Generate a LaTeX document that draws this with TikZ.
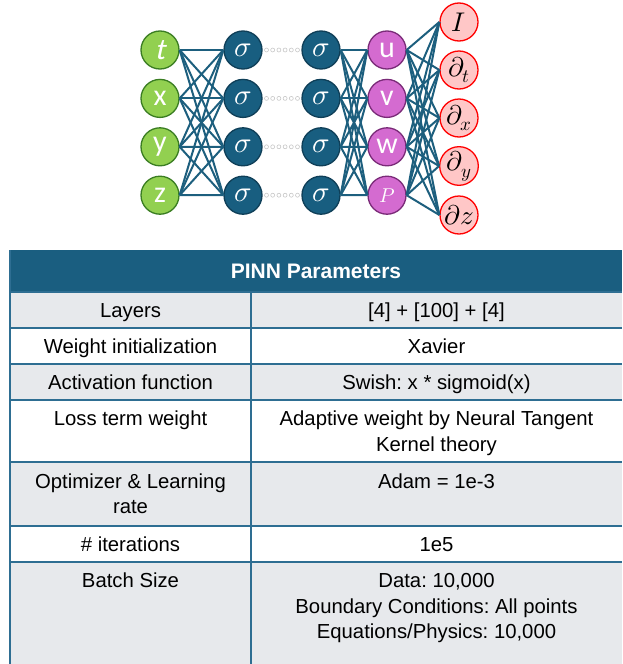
\documentclass[tikz,border=0pt]{standalone}
\usepackage{fontspec}
\usepackage{unicode-math}
\setmainfont{Liberation Sans}
\newfontfamily\letterfont{Carlito}
\newfontfamily\letterslant{Carlito}[FakeSlant=0.22]
\usetikzlibrary{calc}

\definecolor{edgeblue}{HTML}{1D5F7E}
\definecolor{hidfill}{HTML}{185E80}
\definecolor{hidline}{HTML}{0F3F58}
\definecolor{infill}{HTML}{92D050}
\definecolor{inline}{HTML}{3A7D22}
\definecolor{outfill}{HTML}{D46BD0}
\definecolor{outline}{HTML}{7A2B78}
\definecolor{derfill}{HTML}{FFC7C7}
\definecolor{derline}{HTML}{FF0000}
\definecolor{hdrfill}{HTML}{1A5E80}
\definecolor{gridline}{HTML}{2E6E92}
\definecolor{rowgray}{HTML}{E7E9EC}
\definecolor{dotgray}{HTML}{C8C8C8}

\tikzset{
  neuron/.style={circle, minimum size=38pt, inner sep=0pt, line width=1.3pt},
  inunit/.style={neuron, fill=infill, draw=inline, text=white,
    font=\letterfont\fontsize{30}{30}\selectfont},
  hidunit/.style={neuron, fill=hidfill, draw=hidline, text=white,
    font=\fontsize{29}{29}\selectfont},
  outunit/.style={neuron, fill=outfill, draw=outline, text=white,
    font=\letterfont\fontsize{30}{30}\selectfont},
  derunit/.style={neuron, fill=derfill, draw=derline, text=black,
    font=\fontsize{27}{27}\selectfont},
  wire/.style={draw=edgeblue, line width=2pt},
  gapdot/.style={circle, draw=dotgray, fill=white, line width=0.6pt,
    minimum size=4pt, inner sep=0pt},
  cell/.style={anchor=base, inner sep=0pt, font=\fontsize{20.3}{24}\selectfont},
  head/.style={anchor=base, inner sep=0pt, text=white,
    font=\bfseries\fontsize{21}{24}\selectfont},
  rule/.style={draw=gridline, line width=1.5pt}
}

\begin{document}
\frenchspacing
\begin{tikzpicture}[x=1pt, y=-1pt]
\useasboundingbox (0,0) rectangle (622,664);

% ---------- network ----------
\node[inunit, font=\letterslant\fontsize{30}{30}\selectfont] (in1) at (160, 50) {t};
\node[inunit] (in2) at (160, 98.4)  {x};
\node[inunit] (in3) at (160, 146.8) {y};
\node[inunit] (in4) at (160, 195.2) {z};

\foreach \i in {1,...,4} {
  \node[hidunit] (ha\i) at (243, {50+48.4*(\i-1)}) {$\sigma$};
  \node[hidunit] (hb\i) at (321, {50+48.4*(\i-1)}) {$\sigma$};
}
\node[outunit] (out1) at (387, 50)    {u};
\node[outunit] (out2) at (387, 98.4)  {v};
\node[outunit] (out3) at (387, 146.8) {w};
\node[outunit, font=\fontsize{20}{20}\selectfont] (out4) at (387, 195.2) {$P$};

\node[derunit] (d1) at (459, 22)  {$I$};
\node[derunit] (d2) at (459, 70)  {$\partial_t$};
\node[derunit] (d3) at (459, 118) {$\partial_x$};
\node[derunit] (d4) at (459, 166) {$\partial_y$};
\node[derunit] (d5) at (459, 215) {$\partial z$};

% full connections
\foreach \a in {1,...,4} {
  \foreach \b in {1,...,4} {
    \path[wire] (in\a.east) -- (ha\b.west);
    \path[wire] (hb\a.east) -- (out\b.west);
  }
  \foreach \b in {1,...,5} {
    \path[wire] (out\a.east) -- (d\b.west);
  }
}

% elided hidden layers
\foreach \i in {1,...,4} {
  \foreach \k in {0,...,5} {
    \node[gapdot] (gap\i\k) at ({266.5+6.2*\k}, {50+48.4*(\i-1)}) {};
  }
}

% ---------- parameter table ----------
\fill[hdrfill] (10,250) rectangle (622,292);
\fill[rowgray] (10,292) rectangle (622,328);
\fill[white]   (10,328) rectangle (622,364);
\fill[rowgray] (10,364) rectangle (622,400);
\fill[white]   (10,400) rectangle (622,462);
\fill[rowgray] (10,462) rectangle (622,526);
\fill[white]   (10,526) rectangle (622,562);
\fill[rowgray] (10,562) rectangle (622,664);

\foreach \yy in {292,328,364,400,462,526,562} {
  \path[rule] (10,\yy) -- (622,\yy);
}
\path[rule] (10,250) -- (10,664);
\path[rule] (251,292) -- (251,664);

\node[head] (title) at (316,278) {PINN Parameters};

\node[cell] (k1) at (130.5,317) {Layers};
\node[cell] (v1) at (436.5,317) {[4] + [100] + [4]};

\node[cell] (k2) at (130.5,353) {Weight initialization};
\node[cell] (v2) at (436.5,353) {Xavier};

\node[cell] (k3) at (130.5,389) {Activation function};
\node[cell] (v3) at (436.5,389) {Swish: x * sigmoid(x)};

\node[cell] (k4) at (130.5,425) {Loss term weight};
\node[cell] (v4a) at (436.5,425) {Adaptive weight by Neural Tangent};
\node[cell] (v4b) at (436.5,451) {Kernel theory};

\node[cell] (k5a) at (130.5,488) {Optimizer \& Learning};
\node[cell] (k5b) at (130.5,513) {rate};
\node[cell] (v5) at (436.5,488) {Adam = 1e-3};

\node[cell] (k6) at (130.5,551) {\# iterations};
\node[cell] (v6) at (436.5,551) {1e5};

\node[cell] (k7) at (130.5,587) {Batch Size};
\node[cell] (v7a) at (436.5,587) {Data: 10,000};
\node[cell] (v7b) at (436.5,613) {Boundary Conditions: All points};
\node[cell] (v7c) at (436.5,638) {Equations/Physics: 10,000};
\end{tikzpicture}
\end{document}
